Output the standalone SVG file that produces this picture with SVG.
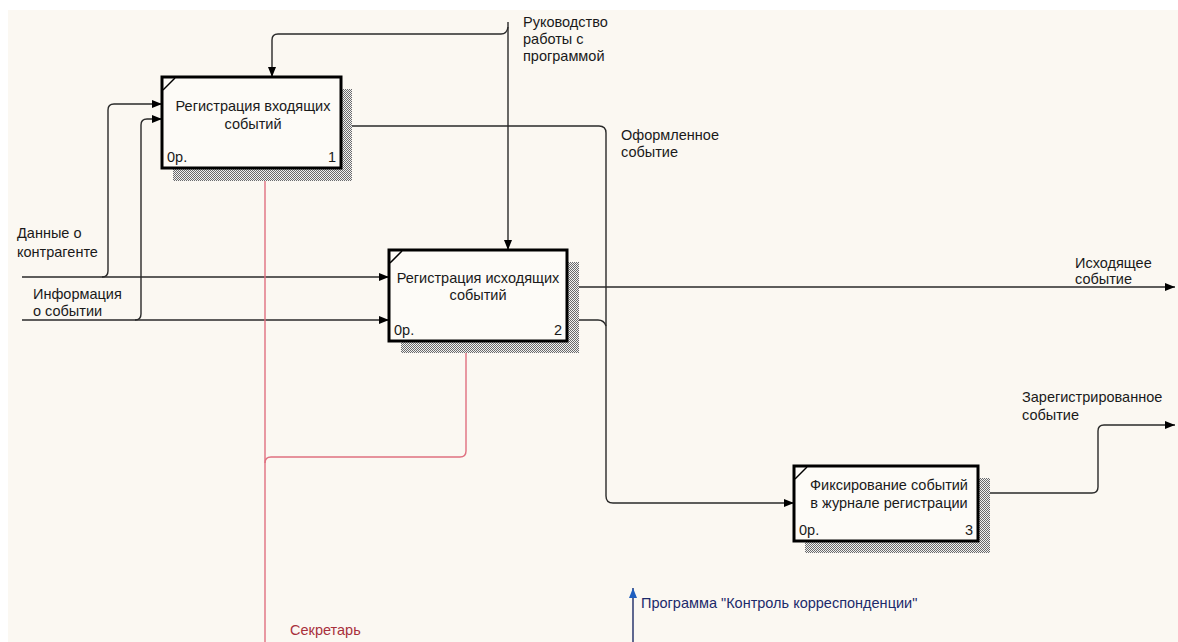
<svg xmlns="http://www.w3.org/2000/svg" width="1178" height="642" viewBox="0 0 1178 642">
  <defs>
    <style>
      .bg { fill: #fbf8f2; }
      .box { fill: #fdfbf7; stroke: #000; stroke-width: 3; }
      .shadow { fill: url(#hatch); }
      .notch { stroke: #000; stroke-width: 1.5; fill: none; }
      .lbl { font-family: "Liberation Sans", Arial, sans-serif; font-size: 14.5px; fill: #1a1a1a; }
      .mid { text-anchor: middle; }
      .end { text-anchor: end; }
      .wire { fill: none; stroke: #2a2a2a; stroke-width: 1.4; }
      .wire-red { fill: none; stroke: #e07080; stroke-width: 1.4; }
      .wire-blue { fill: none; stroke: #1c2a66; stroke-width: 1.4; }
      .red-text { fill: #a8303c; }
      .blue-text { fill: #1c2a6b; }
    </style>
    <pattern id="hatch" width="2" height="2" patternUnits="userSpaceOnUse">
      <rect width="2" height="2" fill="#f2f2f2"/>
      <rect width="1" height="1" fill="#6a6a6a"/>
      <rect x="1" y="1" width="1" height="1" fill="#6a6a6a"/>
    </pattern>
    <marker id="arr" viewBox="0 0 10 8" refX="10" refY="4" markerWidth="10" markerHeight="8" markerUnits="userSpaceOnUse" orient="auto">
      <path d="M0,0 L10,4 L0,8 z" fill="#000"/>
    </marker>
    <marker id="arr-red" viewBox="0 0 10 8" refX="10" refY="4" markerWidth="10" markerHeight="8" markerUnits="userSpaceOnUse" orient="auto">
      <path d="M0,0 L10,4 L0,8 z" fill="#e02020"/>
    </marker>
    <marker id="arr-blue" viewBox="0 0 10 8" refX="10" refY="4" markerWidth="10" markerHeight="8" markerUnits="userSpaceOnUse" orient="auto">
      <path d="M0,0 L10,4 L0,8 z" fill="#1f5fbf"/>
    </marker>
  </defs>

  <!-- canvas -->
  <rect width="1178" height="642" fill="#ffffff"/>
  <rect class="bg" x="8" y="10" width="1170" height="632"/>

  <!-- arrows between activities -->
  <g id="connectors">
    <!-- control: Руководство работы с программой -->
    <path class="wire" d="M508 22 L508 250" marker-end="url(#arr)"/>
    <path class="wire" d="M508 27 Q507 34 501 34 L278 34 Q272 34 272 40 L272 77" marker-end="url(#arr)"/>
    <!-- input: Данные о контрагенте -->
    <path class="wire" d="M22 277 L389 277" marker-end="url(#arr)"/>
    <path class="wire" d="M102 277 Q108 277 108 271 L108 110 Q108 104 114 104 L162 104" marker-end="url(#arr)"/>
    <!-- input: Информация о событии -->
    <path class="wire" d="M22 320 L389 320" marker-end="url(#arr)"/>
    <path class="wire" d="M135 320 Q141 320 141 314 L141 125 Q141 119 147 119 L162 119" marker-end="url(#arr)"/>
    <!-- Оформленное событие -->
    <path class="wire" d="M341 126 L599 126 Q606 126 606 133 L606 496 Q606 503 613 503 L794 503" marker-end="url(#arr)"/>
    <path class="wire" d="M567 320 L598 320 Q604 320 606 326"/>
    <!-- output: Исходящее событие -->
    <path class="wire" d="M567 287 L1175 287" marker-end="url(#arr)"/>
    <!-- output: Зарегистрированное событие -->
    <path class="wire" d="M978 493 L1092 493 Q1098 493 1098 487 L1098 431 Q1098 425 1104 425 L1175 425" marker-end="url(#arr)"/>
    <!-- mechanism: Секретарь -->
    <path class="wire-red" d="M265 642 L265 168" marker-end="url(#arr-red)"/>
    <path class="wire-red" d="M265 463 Q265 457 271 457 L460 457 Q466 457 466 451 L466 341" marker-end="url(#arr-red)"/>
    <!-- mechanism: Программа "Контроль корреспонденции" -->
    <path class="wire-blue" d="M633 642 L633 588" marker-end="url(#arr-blue)"/>
  </g>

  <!-- activity 1 -->
  <g id="node-1">
    <rect class="shadow" x="173" y="89" width="179" height="92"/>
    <rect class="box" x="162" y="77" width="179" height="91"/>
    <path class="notch" d="M163 90 L175 78"/>
    <text class="lbl mid" x="253" y="111">Регистрация входящих</text>
    <text class="lbl mid" x="253" y="129">событий</text>
    <text class="lbl" x="167" y="162">0р.</text>
    <text class="lbl end" x="336" y="162">1</text>
  </g>

  <!-- activity 2 -->
  <g id="node-2">
    <rect class="shadow" x="401" y="262" width="178" height="91"/>
    <rect class="box" x="389" y="250" width="178" height="91"/>
    <path class="notch" d="M390 263 L402 251"/>
    <text class="lbl mid" x="478" y="283">Регистрация исходящих</text>
    <text class="lbl mid" x="478" y="300">событий</text>
    <text class="lbl" x="394" y="335">0р.</text>
    <text class="lbl end" x="562" y="335">2</text>
  </g>

  <!-- activity 3 -->
  <g id="node-3">
    <rect class="shadow" x="805" y="478" width="185" height="75"/>
    <rect class="box" x="794" y="466" width="184" height="75"/>
    <path class="notch" d="M795 479 L807 467"/>
    <text class="lbl mid" x="889" y="490">Фиксирование событий</text>
    <text class="lbl mid" x="889" y="508">в журнале регистрации</text>
    <text class="lbl" x="799" y="535">0р.</text>
    <text class="lbl end" x="973" y="535">3</text>
  </g>

  <!-- arrow labels -->
  <g id="labels">
    <text class="lbl" x="523" y="27">Руководство</text>
    <text class="lbl" x="523" y="44">работы с</text>
    <text class="lbl" x="523" y="61">программой</text>
    <text class="lbl" x="17" y="238">Данные о</text>
    <text class="lbl" x="17" y="257">контрагенте</text>
    <text class="lbl" x="33" y="299">Информация</text>
    <text class="lbl" x="33" y="316">о событии</text>
    <text class="lbl" x="621" y="140">Оформленное</text>
    <text class="lbl" x="621" y="157">событие</text>
    <text class="lbl" x="1075" y="268">Исходящее</text>
    <text class="lbl" x="1075" y="284">событие</text>
    <text class="lbl" x="1022" y="402">Зарегистрированное</text>
    <text class="lbl" x="1022" y="420">событие</text>
    <text class="lbl red-text" x="290" y="635">Секретарь</text>
    <text class="lbl blue-text" x="641" y="608">Программа "Контроль корреспонденции"</text>
  </g>
</svg>
